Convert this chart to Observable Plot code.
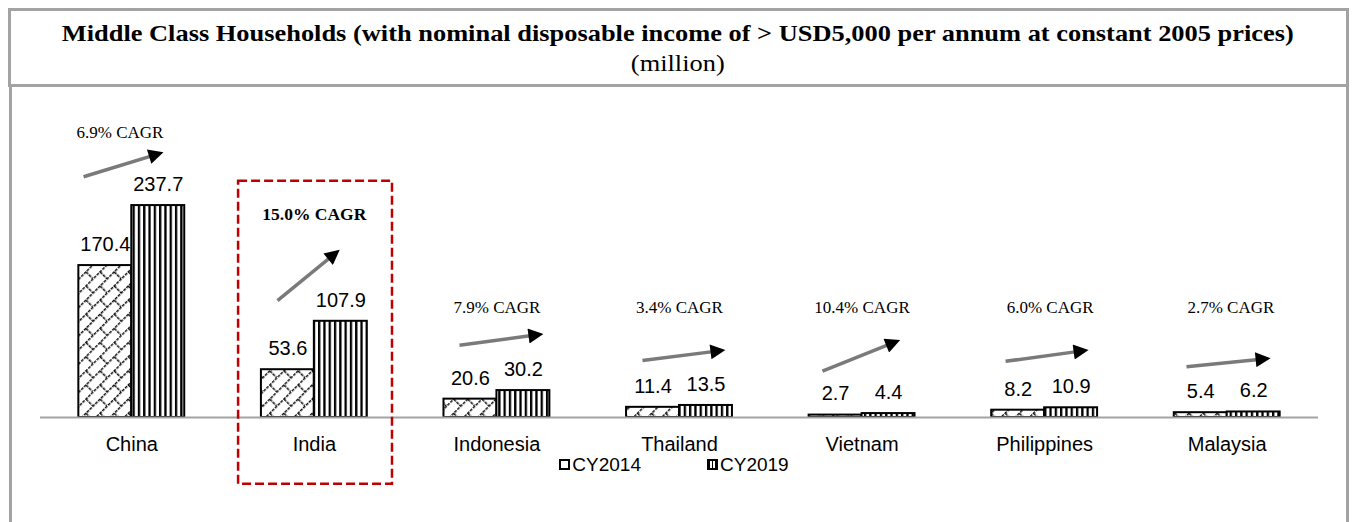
<!DOCTYPE html>
<html><head><meta charset="utf-8">
<script src="https://cdn.jsdelivr.net/npm/d3@7"></script>
<script src="https://cdn.jsdelivr.net/npm/@observablehq/plot@0.6"></script>
<style>
html,body{margin:0;padding:0;background:#fff;width:1356px;height:522px;overflow:hidden;}
#titlebox{position:absolute;left:8px;top:8px;width:1341px;height:79px;box-sizing:border-box;border:3px solid #a3a3a3;}
#chartbox{position:absolute;left:9px;top:84px;width:1340px;height:460px;box-sizing:border-box;border-left:3px solid #a3a3a3;border-right:3px solid #a3a3a3;}
.ttl{position:absolute;left:0;width:1356px;text-align:center;font-family:"Liberation Serif","Times New Roman",serif;font-size:24px;color:#000;line-height:26px;white-space:nowrap;transform:scaleX(1.1);transform-origin:680px 50%;}
#t1{top:20px;font-weight:bold;}
#t2{top:50px;}
#plot{position:absolute;left:0;top:88px;}
#legend{position:absolute;left:0;top:453px;width:1348px;display:flex;justify-content:center;gap:66px;font-family:"Liberation Sans",Arial,sans-serif;font-size:19px;line-height:23px;color:#000;}
.li{display:flex;align-items:center;}
.sw{display:inline-block;width:7px;height:7px;border:2px solid #000;margin-right:2px;background:#fff;}
.sw.s19{background:repeating-linear-gradient(90deg,#000 0 1.5px,#fff 1.5px 3px);}
</style></head>
<body>
<svg width="0" height="0" style="position:absolute">
  <defs>
    <pattern id="brick" patternUnits="userSpaceOnUse" width="20" height="20" patternTransform="rotate(-45)">
      <rect width="20" height="20" fill="#fff"/>
      <path d="M0,0.75H20 M0,10.75H20 M0.75,0.75V10.75 M10.75,10.75V20" stroke="#111" stroke-width="1.6" stroke-dasharray="3 1" fill="none"/>
    </pattern>
    <pattern id="vstripe" patternUnits="userSpaceOnUse" width="5.3" height="10">
      <rect width="5.3" height="10" fill="#fff"/>
      <rect width="2.3" height="10" fill="#000"/>
    </pattern>
    <marker id="ah" viewBox="0 0 10 10" refX="7" refY="5" markerWidth="19" markerHeight="15" markerUnits="userSpaceOnUse" orient="auto">
      <path d="M0,0L10,5L0,10z" fill="#000"/>
    </marker>
  </defs>
</svg>
<div id="titlebox"></div>
<div id="chartbox"></div>
<div class="ttl" id="t1">Middle Class Households (with nominal disposable income of &gt; USD5,000 per annum at constant 2005 prices)</div>
<div class="ttl" id="t2">(million)</div>
<div id="plot"></div>
<div id="legend"></div>
<script>
// ---- data ----
const countries = ["China", "India", "Indonesia", "Thailand", "Vietnam", "Philippines", "Malaysia"];
const years = ["CY2014", "CY2019"];
const cy2014 = [170.4, 53.6, 20.6, 11.4, 2.7, 8.2, 5.4];
const cy2019 = [237.7, 107.9, 30.2, 13.5, 4.4, 10.9, 6.2];
const cagr = [6.9, 15.0, 7.9, 3.4, 10.4, 6.0, 2.7];
const highlight = "India";

// ---- annotation layout (in the chart's own units: category index offset, million) ----
const cagrLabelLevel = [320, 228, 123, 123, 123, 123, 123];
const cagrLabelShift = [-0.065, 0, 0, 0, 0, 0.03, 0.02];
const arrowFrom = [[-0.264, 270], [-0.202, 131], [-0.205, 81], [-0.203, 64], [-0.217, 52], [-0.214, 63], [-0.223, 57]];
const arrowTo = [[0.150, 296], [0.120, 185], [0.230, 93], [0.227, 75], [0.186, 85], [0.216, 75], [0.213, 66]];
const highlightBox = {x1: -0.415, x2: 0.428, y1: -75, y2: 265};

const bw = 0.29;
const rows = countries.flatMap((c, i) => [
  {country: c, i, year: years[0], value: cy2014[i]},
  {country: c, i, year: years[1], value: cy2019[i]}
]);
const xl = d => d.year === years[0] ? d.i - bw : d.i;
const xr = d => d.year === years[0] ? d.i : d.i + bw;
const xc = d => (xl(d) + xr(d)) / 2;
const hi = countries.indexOf(highlight);
const idx = countries.map((c, i) => i);
const serif = "Liberation Serif, Times New Roman, serif";

const chart = Plot.plot({
  width: 1356,
  height: 400,
  marginLeft: 40,
  marginRight: 38,
  marginTop: 0,
  marginBottom: 71,
  x: {domain: [-0.5, countries.length - 0.5], axis: null},
  y: {domain: [0, 369], axis: null},
  style: {fontFamily: "Liberation Sans, Arial, sans-serif", fontSize: "20px", color: "#000", background: "transparent"},
  marks: [
    Plot.rectY(rows.filter(d => d.year === years[0]), {x1: xl, x2: xr, y1: () => 0, y2: "value", fill: "url(#brick)", stroke: "#000", strokeWidth: 2}),
    Plot.rectY(rows.filter(d => d.year === years[1]), {x1: xl, x2: xr, y1: () => 0, y2: "value", fill: "url(#vstripe)", stroke: "#000", strokeWidth: 2}),
    Plot.ruleY([0], {stroke: "#a3a3a3", strokeWidth: 2}),
    Plot.text(rows, {x: xc, y: "value", text: d => d.value.toFixed(1), dy: -21, fontSize: 20, fill: "#000"}),
    Plot.text(countries, {x: (d, i) => i, y: () => 0, text: d => d, dy: 27, fontSize: 20, fill: "#000"}),
    Plot.text(idx.filter(i => i !== hi), {x: i => i + cagrLabelShift[i], y: i => cagrLabelLevel[i], text: i => cagr[i].toFixed(1) + "% CAGR", fontFamily: serif, fontSize: 17, fill: "#000"}),
    Plot.text([hi], {x: i => i + cagrLabelShift[i], y: i => cagrLabelLevel[i], text: i => cagr[i].toFixed(1) + "% CAGR", fontFamily: serif, fontSize: 17.5, fontWeight: "bold", fill: "#000"}),
    Plot.link(idx, {x1: i => i + arrowFrom[i][0], y1: i => arrowFrom[i][1], x2: i => i + arrowTo[i][0], y2: i => arrowTo[i][1], stroke: "#7a7a7a", strokeWidth: 3.5}),
    Plot.rect([highlightBox], {x1: d => hi + d.x1, x2: d => hi + d.x2, y1: d => d.y1, y2: d => d.y2, fill: "none", stroke: "#c00000", strokeWidth: 2.5, strokeDasharray: "9,4"})
  ]
});
d3.select(chart).selectAll('g[aria-label="link"] path').attr("marker-end", "url(#ah)");
document.getElementById("plot").append(chart);

// legend
const lg = d3.select("#legend");
years.forEach((y, k) => {
  const item = lg.append("div").attr("class", "li");
  item.append("span").attr("class", "sw" + (k === 1 ? " s19" : ""));
  item.append("span").text(y);
});
</script>
</body></html>
